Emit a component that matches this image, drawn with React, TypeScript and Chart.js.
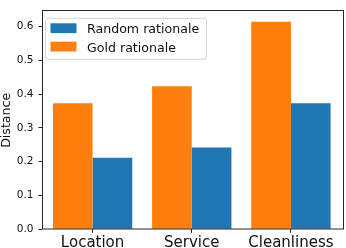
import React, { useEffect, useRef } from "react";
import { Chart, registerables } from "chart.js";

Chart.register(...registerables);

const categories = ["Location", "Service", "Cleanliness"];
const goldValues = [0.373, 0.423, 0.614];
const randomValues = [0.212, 0.242, 0.373];
const yTicks = [0, 0.1, 0.2, 0.3, 0.4, 0.5, 0.6];

const FONT = "'DejaVu Sans', sans-serif";

const framePlugin = {
  id: "frame",
  afterDatasetsDraw(chart: any) {
    const { ctx, chartArea: a } = chart;
    ctx.save();
    ctx.strokeStyle = "#262626";
    ctx.lineWidth = 1;
    ctx.strokeRect(Math.round(a.left) + 0.5, Math.round(a.top) - 0.5, Math.round(a.right - a.left) - 1, Math.round(a.bottom - a.top) + 0.5);
    ctx.restore();
  },
};

const legendPlugin = {
  id: "innerLegend",
  afterDraw(chart: any) {
    const { ctx, chartArea: a } = chart;
    const items = chart.data.datasets.slice().reverse();
    const x = a.left + 3.5;
    const y = a.top + 7;
    const w = 161;
    const h = 41;
    ctx.save();
    ctx.beginPath();
    (ctx as any).roundRect(x, y, w, h, 2.5);
    ctx.fillStyle = "rgba(255,255,255,0.8)";
    ctx.fill();
    ctx.strokeStyle = "#d4d4d4";
    ctx.lineWidth = 1;
    ctx.stroke();
    ctx.font = `12.6px ${FONT}`;
    ctx.textBaseline = "alphabetic";
    ctx.textAlign = "left";
    items.forEach((ds: any, i: number) => {
      const base = y + 14.8 + i * 18.4;
      ctx.fillStyle = ds.backgroundColor;
      ctx.fillRect(x + 5, base - 9.8, 26, 9.8);
      ctx.fillStyle = "#111";
      ctx.fillText(ds.label, x + 41.5, base);
    });
    ctx.restore();
  },
};

export default function App() {
  const ref = useRef<HTMLCanvasElement>(null);
  useEffect(() => {
    document.body.style.margin = "0";
    const chart = new Chart(ref.current as HTMLCanvasElement, {
      type: "bar",
      data: {
        datasets: [
          {
            label: "Gold rationale",
            data: categories.map((_, i) => ({ x: i, y: goldValues[i] })),
            backgroundColor: "#ff7f0e",
            borderWidth: 0,
          },
          {
            label: "Random rationale",
            data: categories.map((_, i) => ({ x: i, y: randomValues[i] })),
            backgroundColor: "#1f77b4",
            borderWidth: 0,
          },
        ],
      },
      options: {
        animation: false,
        responsive: false,
        devicePixelRatio: 1,
        layout: { padding: { top: 1.5, right: 2, left: 0, bottom: 0 } },
        datasets: { bar: { categoryPercentage: 0.8, barPercentage: 1.0 } },
        plugins: { legend: { display: false }, tooltip: { enabled: false } },
        scales: {
          x: {
            type: "linear",
            min: -0.51,
            max: 2.535,
            offset: false,
            grid: { offset: false, drawOnChartArea: false, drawTicks: true, tickLength: 3.5, color: "#262626" },
            border: { display: false },
            afterBuildTicks: (scale: any) => {
              scale.ticks = categories.map((_, i) => ({ value: i }));
            },
            afterFit: (scale: any) => {
              scale.height = 18.7;
            },
            ticks: {
              autoSkip: false,
              maxRotation: 0,
              padding: 1,
              color: "#111",
              font: { family: FONT, size: 15 },
              callback: (v: any) => categories[Math.round(Number(v))],
            },
          },
          y: {
            min: 0,
            max: 0.645,
            grid: { drawOnChartArea: false, drawTicks: true, tickLength: 3.5, color: "#262626" },
            border: { display: false },
            afterBuildTicks: (scale: any) => {
              scale.ticks = yTicks.map((v) => ({ value: v }));
            },
            afterFit: (scale: any) => {
              scale.width = 42;
            },
            title: {
              display: true,
              text: "Distance",
              color: "#111",
              padding: 0,
              font: { family: FONT, size: 12.6, lineHeight: 1 },
            },
            ticks: {
              padding: 5,
              color: "#111",
              font: { family: FONT, size: 10.5 },
              callback: (v: any) => Number(v).toFixed(1),
            },
          },
        },
      },
      plugins: [framePlugin, legendPlugin],
    } as any);
    return () => chart.destroy();
  }, []);
  return <canvas ref={ref} width={346} height={248} style={{ display: "block" }} />;
}
